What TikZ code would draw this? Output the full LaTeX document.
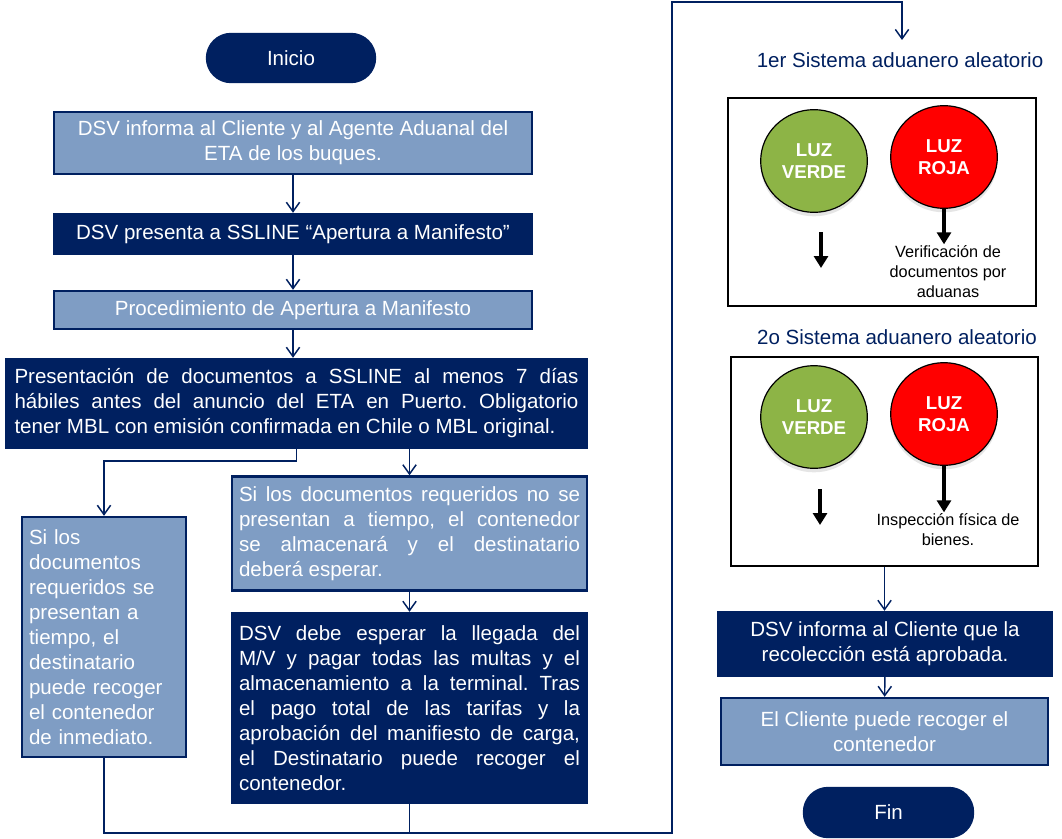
\documentclass[tikz,border=0pt]{standalone}
\usepackage{fontspec}
\setmainfont{Liberation Sans}
\usetikzlibrary{arrows.meta,shapes.geometric,shadows}
\definecolor{navy}{RGB}{0,32,96}
\definecolor{steel}{RGB}{127,157,196}
\definecolor{luzgreen}{RGB}{141,180,70}
\definecolor{luzred}{RGB}{255,0,0}
\frenchspacing

\begin{document}
\begin{tikzpicture}[x=0.75pt,y=-0.75pt]

\def\fs{\fontsize{15.4}{18.75}\selectfont\tolerance=10000}
\tikzstyle{block} = [
	draw=navy, line width=1.8pt, fill=steel, text=white,
	rectangle, inner sep=0pt, font=\fs ];
\tikzstyle{dark} = [block, fill=navy];
\tikzstyle{term} = [dark, rounded corners=18pt, minimum width=126pt, minimum height=36pt];
\tikzstyle{panel} = [draw=black, line width=1.6pt, fill=white, inner sep=0pt];
\tikzstyle{lamp} = [ellipse, draw=black, line width=0.9pt, text=white, align=center,
	inner sep=0pt, minimum width=80pt, minimum height=77pt,
	font=\bfseries\fontsize{14}{16.5}\selectfont,
	drop shadow={opacity=0.2, shadow xshift=0pt, shadow yshift=-3pt} ];
\tikzstyle{heading} = [text=navy, inner sep=1pt, font=\fs];
\tikzstyle{note} = [align=center, inner sep=1pt, font=\fontsize{12.2}{15}\selectfont];
\tikzstyle{link} = [draw=navy, line width=1.1pt, -{Straight Barb[length=7pt,width=10pt]}];
\tikzstyle{wire} = [draw=navy, line width=1.1pt];
\tikzstyle{bigarrow} = [line width=3pt, -{Triangle[length=9pt,width=10.5pt]}];
\useasboundingbox (0,0) rectangle (1062,838);

\node[term] (start) at (291,58) {Inicio};
\node[block, minimum width=358.5pt, minimum height=46.5pt, align=center] (b1) at (293,143)
	{DSV informa al Cliente y al Agente Aduanal del\\ETA de los buques.};
\node[dark, minimum width=358.5pt, minimum height=30pt] (b2) at (293,234)
	{DSV presenta a SSLINE “Apertura a Manifesto”};
\node[block, minimum width=358.5pt, minimum height=28.5pt] (b3) at (293,310)
	{Procedimiento de Apertura a Manifesto};
\node[dark, minimum width=435.75pt, minimum height=66.75pt, text width=423pt, align=justify] (b4) at (296.5,403.5)
	{Presentación de documentos a SSLINE al menos 7 días\linebreak
	hábiles antes del anuncio del ETA en Puerto. Obligatorio\linebreak
	tener MBL con emisión confirmada en Chile o MBL original.};
\node[block, minimum width=123pt, minimum height=180pt, text width=112.5pt, align=left] (b5) at (104,637)
	{Si los\\documentos\\requeridos se\\presentan a\\tiempo, el\\destinatario\\puede recoger\\el contenedor\\de inmediato.};
\node[block, minimum width=266.25pt, minimum height=85.5pt, text width=255.75pt, align=justify] (b6) at (409.5,533.5)
	{Si los documentos requeridos no se\linebreak
	presentan a tiempo, el contenedor\linebreak
	se almacenará y el destinatario\linebreak
	deberá esperar.};
\node[dark, minimum width=266.25pt, minimum height=142.5pt, text width=255.75pt, align=justify] (b7) at (409.5,708)
	{DSV debe esperar la llegada del\linebreak
	M/V y pagar todas las multas y el\linebreak
	almacenamiento a la terminal. Tras\linebreak
	el pago total de las tarifas y la\linebreak
	aprobación del manifiesto de carga,\linebreak
	el Destinatario puede recoger el\linebreak
	contenedor.};

\node[heading] (s1) at (900,60) {1er Sistema aduanero aleatorio};
\node[panel, minimum width=231pt, minimum height=156pt] (p1) at (882,202) {};
\node[lamp, fill=luzgreen] (g1) at (814,161) {LUZ\\VERDE};
\node[lamp, fill=luzred] (r1) at (944,157) {LUZ\\ROJA};
\node[note] (v1) at (948,272) {Verificación de\\documentos por\\aduanas};
\coordinate (g1a) at (821,232);
\coordinate (g1b) at (821,268);

\node[heading] (s2) at (897,337) {2o Sistema aduanero aleatorio};
\node[panel, minimum width=230.25pt, minimum height=156.75pt] (p2) at (884.5,461.5) {};
\node[lamp, fill=luzgreen] (g2) at (814,417) {LUZ\\VERDE};
\node[lamp, fill=luzred] (r2) at (944,414) {LUZ\\ROJA};
\node[note] (n2) at (948,530) {Inspección física de\\bienes.};
\coordinate (g2a) at (820,489);
\coordinate (g2b) at (820,525);

\node[dark, minimum width=250.5pt, minimum height=48pt, align=center] (b8) at (885,644)
	{DSV informa al Cliente que la\\recolección está aprobada.};
\node[block, minimum width=245.25pt, minimum height=50.25pt, align=center] (b9) at (884.5,731.5)
	{El Cliente puede recoger el\\contenedor};
\node[term, minimum width=126.75pt, minimum height=36.75pt] (fin) at (888.5,812.5) {Fin};

\coordinate (rail) at (672,833);
\coordinate (top) at (902,2);
\coordinate (s1in) at (902,40);

\draw[link] (b1) -- (b2);
\draw[link] (b2) -- (b3);
\draw[link] (b3.south) -- (b3.south |- b4.north);
\draw[link] (b4.south) -- ++(0,12) -| (b5.north);
\draw[link] (b6.north |- b4.south) -- (b6.north);
\draw[link] (b6) -- (b7);
\draw[link] (b5.south) |- (rail) |- (top) -- (s1in);
\draw[wire] (b7.south) -- (b7.south |- rail);

\draw[bigarrow] (g1a) -- (g1b);
\draw[bigarrow] (r1.south) -- (r1.south |- v1.north);
\draw[bigarrow] (g2a) -- (g2b);
\draw[bigarrow] (r2.south) -- (r2.south |- n2.north);

\draw[link] (p2.south) -- (p2.south |- b8.north);
\draw[link] (b8) -- (b9);

\end{tikzpicture}
\end{document}
